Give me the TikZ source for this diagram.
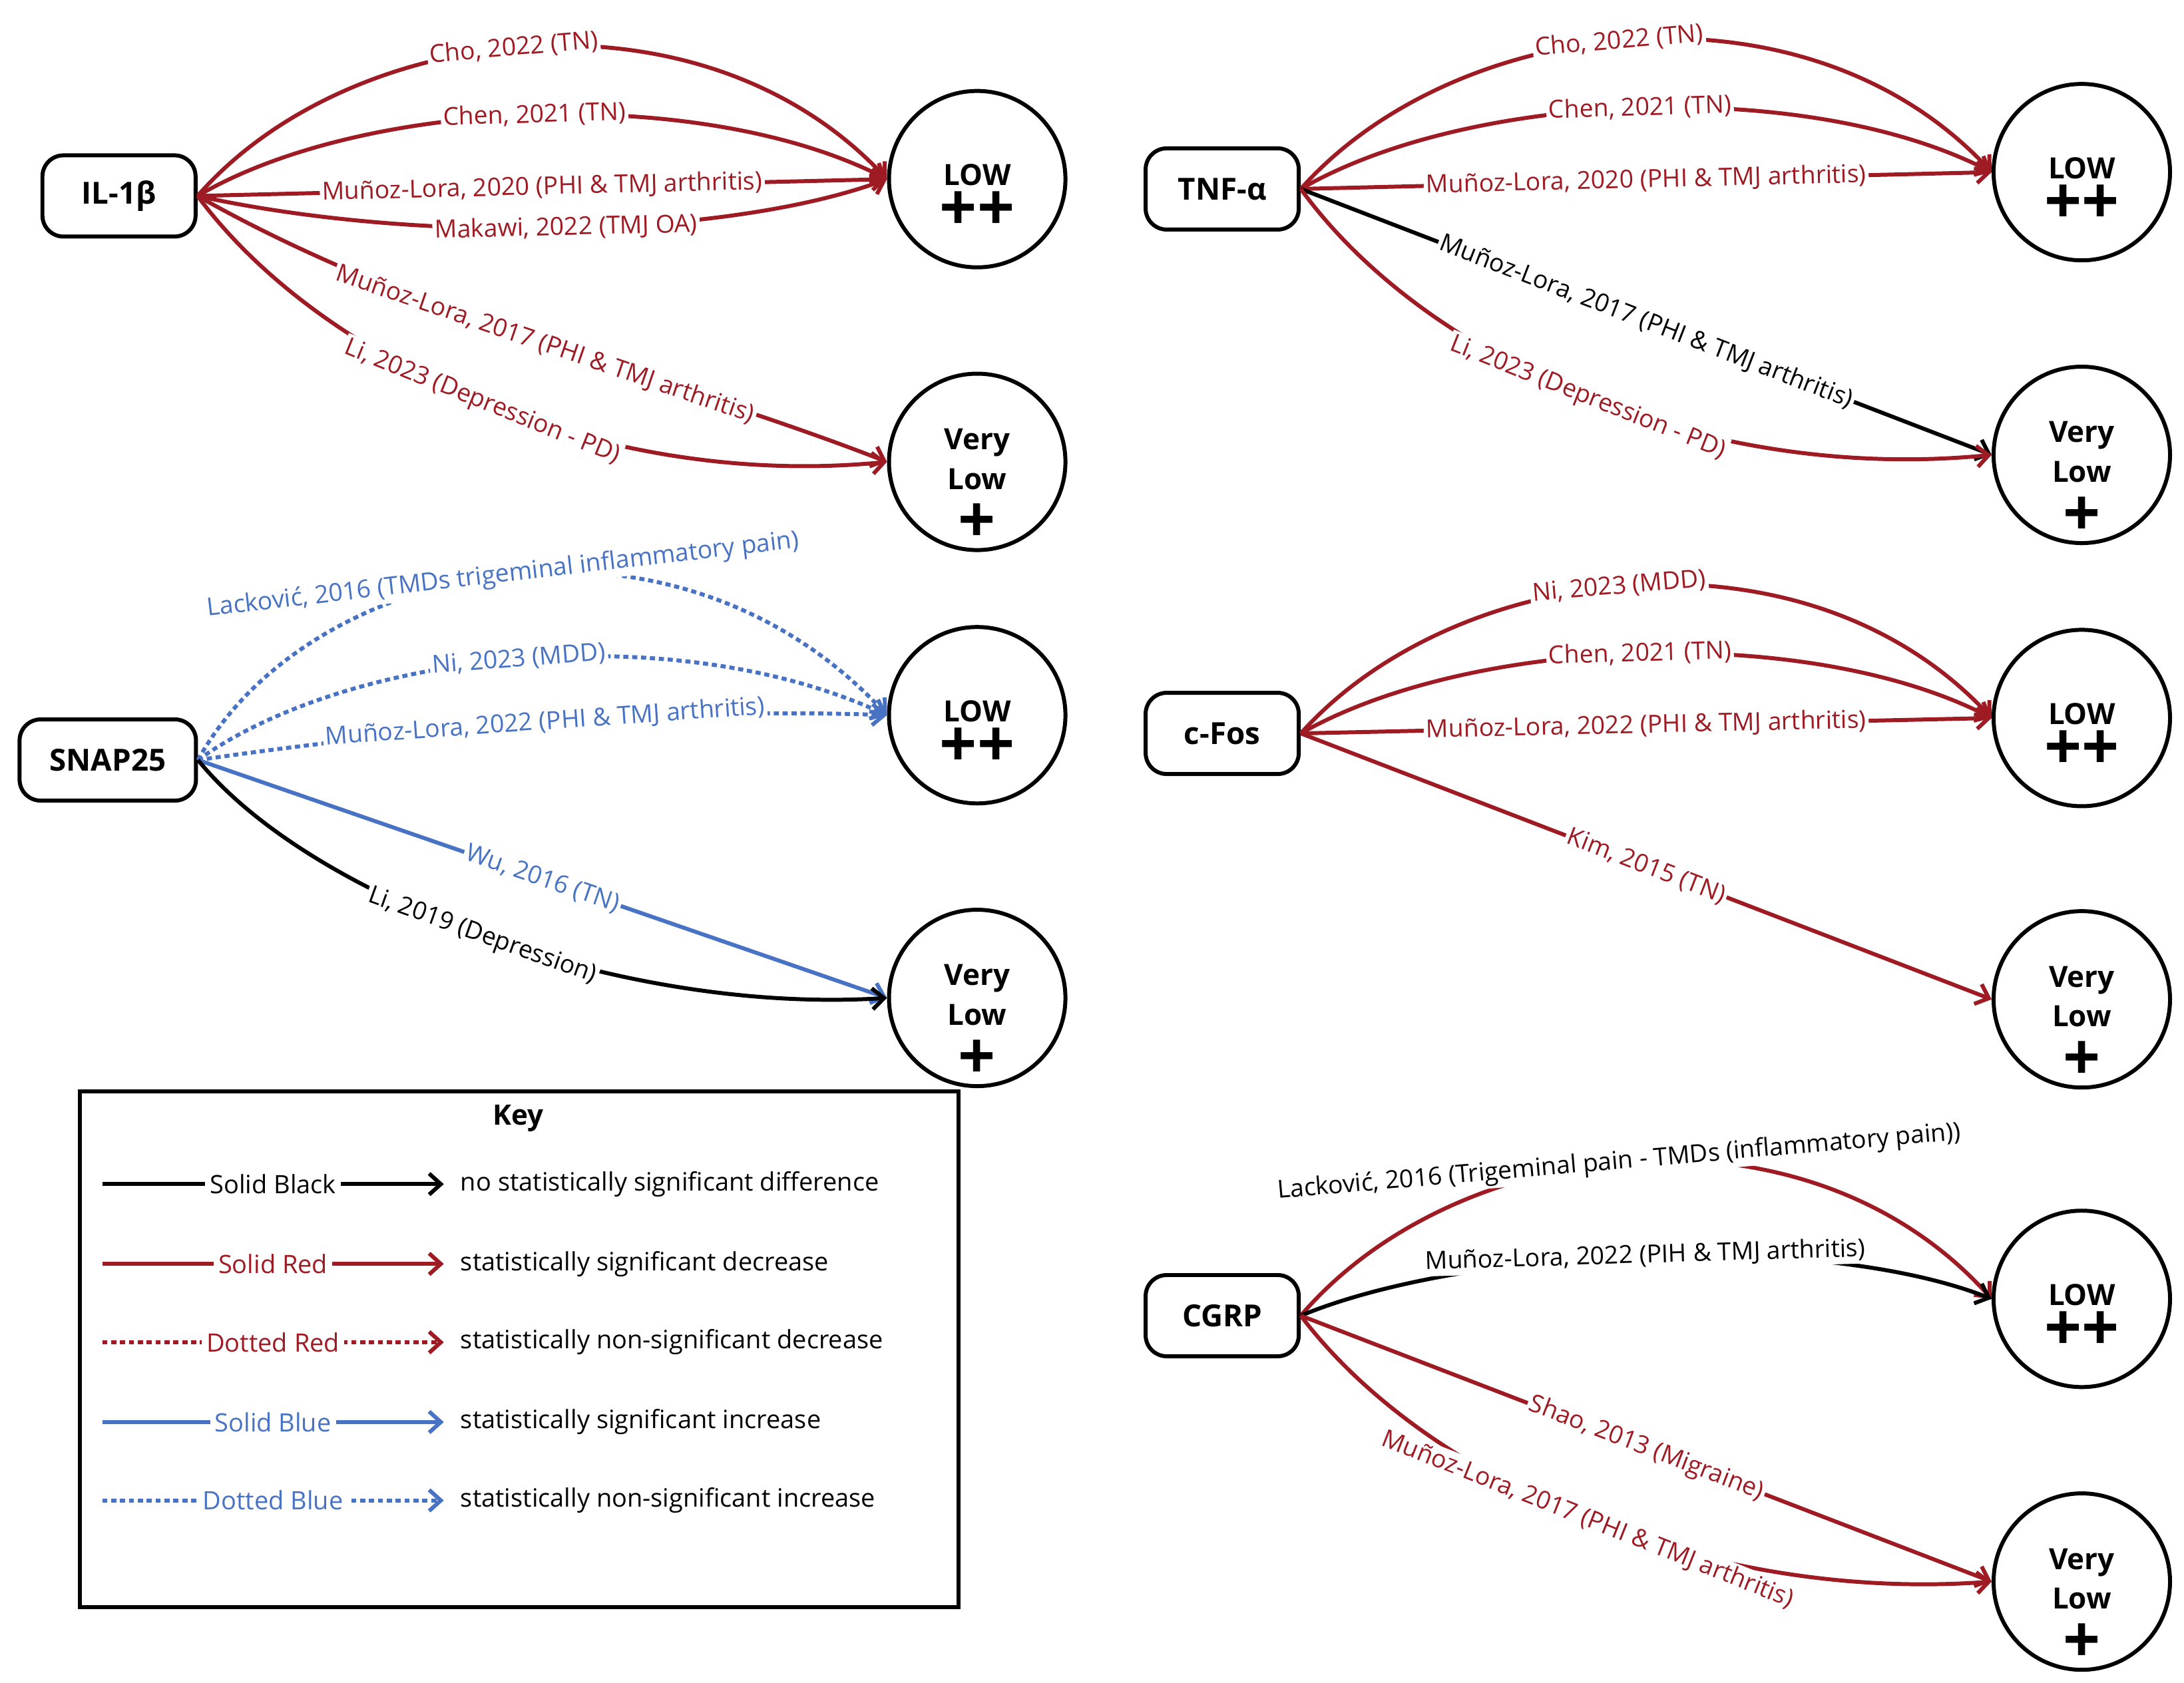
\documentclass[tikz,border=0pt]{standalone}
\usepackage{fontspec}
\setmainfont{Open Sans}
\usetikzlibrary{arrows.meta}
\definecolor{sigred}{RGB}{158,27,36}
\definecolor{sigblue}{RGB}{72,114,196}
\begin{document}
\begin{tikzpicture}[x=0.02103cm,y=-0.02103cm,line width=1.7pt,
    >={Straight Barb[length=5pt,width=9pt]},
    box/.style={draw,rounded corners=9pt,minimum width=2.3cm,minimum height=1.22cm,font=\fontsize{13}{15}\selectfont\bfseries},
    lvl/.style={draw,circle,minimum size=2.65cm,inner sep=0pt},
    lvltxt/.style={align=center,font=\fontsize{12.5}{17}\selectfont\bfseries},
    plus/.style={font=\fontsize{28}{28}\selectfont\bfseries,inner sep=0pt},
    lab/.style={sloped,fill=white,inner sep=1pt,font=\fontsize{10.6}{12}\selectfont},
    red/.style={draw=sigred,text=sigred},
    blue/.style={draw=sigblue,text=sigblue},
    dots/.style={dash pattern=on 2.2pt off 1.6pt},
    keyblack/.style={},
    keyred/.style={red},
    keyreddot/.style={red,dots},
    keyblue/.style={blue},
    keybluedot/.style={blue,dots}]
  \useasboundingbox (0,0) rectangle (1560,1202);

  % molecules
  \node[box] (il) at (85,140) {IL-1β};
  \node[box] (tnf) at (873,135) {TNF-α};
  \node[box,minimum width=2.65cm] (snap) at (77,543) {SNAP25};
  \node[box] (fos) at (873,524) {c-Fos};
  \node[box] (cgrp) at (873,940) {CGRP};

  % levels
  \foreach \n/\x/\y in {illo/698/128,tnflo/1487/123,snaplo/698/511,foslo/1487/513,cgrplo/1487/928}{
    \node[lvl] (\n) at (\x,\y) {};
    \node[lvltxt] (\n t) at (\x,\y-3) {LOW};
    \node[plus] (\n p) at (\x,\y+23) {++};
  }
  \foreach \n/\x/\y in {ilvl/698/330,tnfvl/1487/325,snapvl/698/713,fosvl/1487/714,cgrpvl/1487/1130}{
    \node[lvl] (\n) at (\x,\y) {};
    \node[lvltxt] (\n t) at (\x,\y-2) {Very\\Low};
    \node[plus] (\n p) at (\x,\y+44) {+};
  }

  % IL-1b
  \draw[->,red] (il.east) .. controls (250,15) and (500,-15) .. node[lab,pos=.48] {Cho, 2022 (TN)} (illo.west);
  \draw[->,red] (il.east) .. controls (260,70) and (500,60) .. node[lab,pos=.5] {Chen, 2021 (TN)} (illo.west);
  \draw[->,red] (il.east) -- node[lab,pos=.5] {Muñoz-Lora, 2020 (PHI \& TMJ arthritis)} (illo.west);
  \draw[->,red] (il.east) .. controls (300,175) and (520,170) .. node[lab,pos=.5] {Makawi, 2022 (TMJ OA)} (illo.west);
  \draw[->,red] (il.east) .. controls (300,230) and (480,270) .. node[lab,pos=.5] {Muñoz-Lora, 2017 (PHI \& TMJ arthritis)} (ilvl.west);
  \draw[->,red] (il.east) .. controls (230,260) and (430,350) .. node[lab,pos=.5] {Li, 2023 (Depression - PD)} (ilvl.west);

  % TNF-a
  \draw[->,red] (tnf.east) .. controls (1040,10) and (1290,-20) .. node[lab,pos=.48] {Cho, 2022 (TN)} (tnflo.west);
  \draw[->,red] (tnf.east) .. controls (1050,65) and (1290,55) .. node[lab,pos=.5] {Chen, 2021 (TN)} (tnflo.west);
  \draw[->,red] (tnf.east) -- node[lab,pos=.5] {Muñoz-Lora, 2020 (PHI \& TMJ arthritis)} (tnflo.west);
  \draw[->] (tnf.east) -- node[lab,pos=.5] {Muñoz-Lora, 2017 (PHI \& TMJ arthritis)} (tnfvl.west);
  \draw[->,red] (tnf.east) .. controls (1020,260) and (1220,345) .. node[lab,pos=.5] {Li, 2023 (Depression - PD)} (tnfvl.west);

  % SNAP25
  \draw[->,blue,dots] (snap.east) .. controls (220,400) and (480,345) .. node[lab,pos=.5] {Lacković, 2016 (TMDs trigeminal inflammatory pain)} (snaplo.west);
  \draw[->,blue,dots] (snap.east) .. controls (250,465) and (480,440) .. node[lab,pos=.5] {Ni, 2023 (MDD)} (snaplo.west);
  \draw[->,blue,dots] (snap.east) .. controls (300,520) and (480,505) .. node[lab,pos=.5] {Muñoz-Lora, 2022 (PHI \& TMJ arthritis)} (snaplo.west);
  \draw[->,blue] (snap.east) -- node[lab,pos=.5] {Wu, 2016 (TN)} (snapvl.west);
  \draw[->] (snap.east) .. controls (220,640) and (440,725) .. node[lab,pos=.5] {Li, 2019 (Depression)} (snapvl.west);

  % c-Fos
  \draw[->,red] (fos.east) .. controls (1040,400) and (1290,370) .. node[lab,pos=.48] {Ni, 2023 (MDD)} (foslo.west);
  \draw[->,red] (fos.east) .. controls (1050,455) and (1290,445) .. node[lab,pos=.5] {Chen, 2021 (TN)} (foslo.west);
  \draw[->,red] (fos.east) -- node[lab,pos=.5] {Muñoz-Lora, 2022 (PHI \& TMJ arthritis)} (foslo.west);
  \draw[->,red] (fos.east) -- node[lab,pos=.5] {Kim, 2015 (TN)} (fosvl.west);

  % CGRP
  \draw[->,sigred] (cgrp.east) .. controls (1040,810) and (1290,780) .. node[lab,pos=.48,text=black] {Lacković, 2016 (Trigeminal pain - TMDs (inflammatory pain))} (cgrplo.west);
  \draw[->] (cgrp.east) .. controls (1050,890) and (1300,880) .. node[lab,pos=.5] {Muñoz-Lora, 2022 (PIH \& TMJ arthritis)} (cgrplo.west);
  \draw[->,red] (cgrp.east) -- node[lab,pos=.5] {Shao, 2013 (Migraine)} (cgrpvl.west);
  \draw[->,red] (cgrp.east) .. controls (1020,1060) and (1220,1145) .. node[lab,pos=.5] {Muñoz-Lora, 2017 (PHI \& TMJ arthritis)} (cgrpvl.west);

  % key
  \node[draw,minimum width=13.2cm,minimum height=7.75cm] (key) at (371,964) {};
  \node[font=\fontsize{12}{14}\selectfont\bfseries] (keyt) at (370,799) {Key};
  \foreach \y/\sty/\txt/\desc in {846/keyblack/Solid Black/no statistically significant difference,
      903/keyred/Solid Red/statistically significant decrease,
      959/keyreddot/Dotted Red/statistically non-significant decrease,
      1016/keyblue/Solid Blue/statistically significant increase,
      1072/keybluedot/Dotted Blue/statistically non-significant increase}{
    \coordinate (k0) at (73,\y);
    \coordinate (k1) at (317,\y);
    \draw[->,\sty] (k0) -- node[fill=white,inner sep=2pt,pos=.5,font=\fontsize{10.8}{12}\selectfont] {\txt} (k1);
    \node[anchor=west,font=\fontsize{10.8}{12}\selectfont] at (322,\y) {\desc};
  }
\end{tikzpicture}
\end{document}
